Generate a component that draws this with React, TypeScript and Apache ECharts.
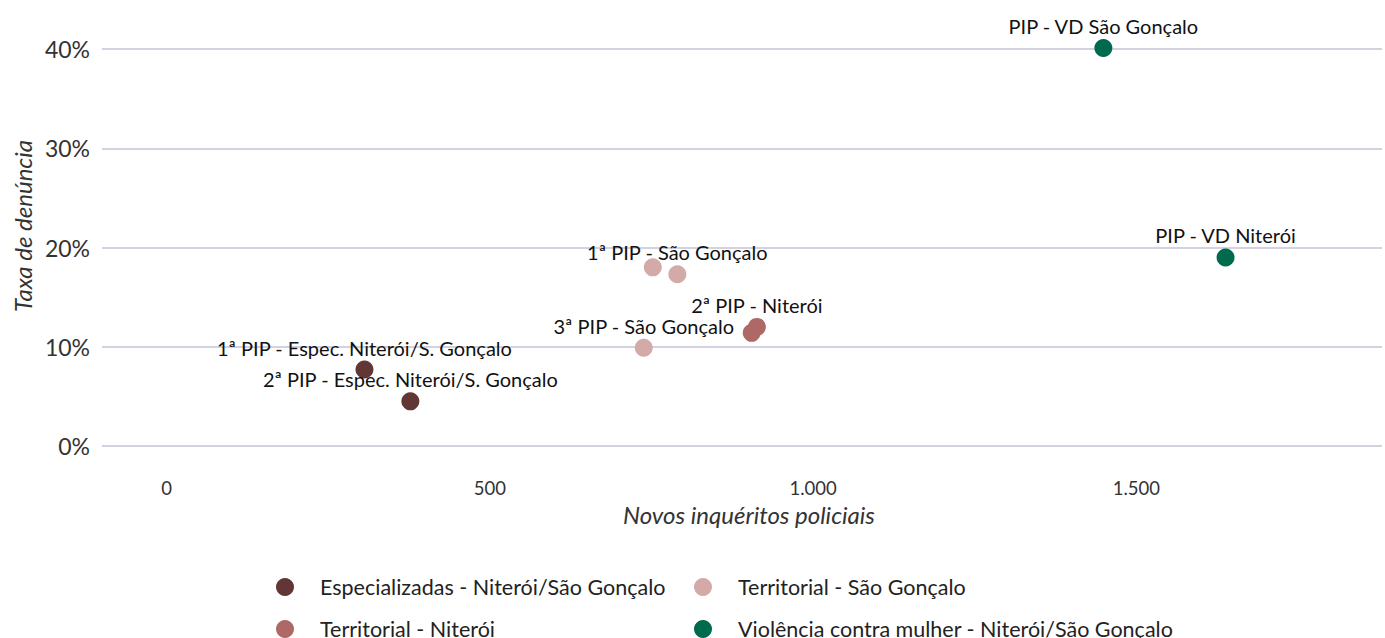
import React, { useEffect, useRef } from "react";
import * as echarts from "echarts";

const seriesNames = [
  "Especializadas - Niterói/São Gonçalo",
  "Territorial - Niterói",
  "Territorial - São Gonçalo",
  "Violência contra mulher - Niterói/São Gonçalo",
];
const colors = ["#633636", "#ae6967", "#d4aaa8", "#006a4f"];

// [novos inquéritos, taxa de denúncia %, rótulo]
const especializadas: [number, number, string][] = [
  [306, 7.7, "1ª PIP - Espec. Niterói/S. Gonçalo"],
  [377, 4.5, "2ª PIP - Espec. Niterói/S. Gonçalo"],
];
const territorialNiteroi: [number, number, string][] = [
  [905, 11.4, ""],
  [913, 12.0, "2ª PIP - Niterói"],
];
const territorialSaoGoncalo: [number, number, string][] = [
  [752, 18.0, ""],
  [790, 17.3, "1ª PIP - São Gonçalo"],
  [738, 9.9, "3ª PIP - São Gonçalo"],
];
const violencia: [number, number, string][] = [
  [1449, 40.1, "PIP - VD São Gonçalo"],
  [1638, 19.0, "PIP - VD Niterói"],
];
const groups = [especializadas, territorialNiteroi, territorialSaoGoncalo, violencia];

const yTicks = [0, 10, 20, 30, 40];
const xTickValues = [0, 500, 1000, 1500];
const xTitle = "Novos inquéritos policiais";
const yTitle = "Taxa de denúncia";

const FONT = "Lato";

export default function App() {
  const ref = useRef<HTMLDivElement>(null);
  useEffect(() => {
    if (!ref.current) return;
    const chart = echarts.init(ref.current, undefined, { renderer: "svg" });
    const legendPos = [
      { left: 271, top: 571 },
      { left: 271, top: 613 },
      { left: 689, top: 571 },
      { left: 689, top: 613 },
    ];
    chart.setOption({
      animation: false,
      backgroundColor: "#ffffff",
      textStyle: { fontFamily: FONT },
      grid: { left: 102, right: 0, top: 49, bottom: 192, containLabel: false },
      xAxis: {
        type: "value",
        min: -100,
        max: 1880,
        interval: 100,
        axisLine: { show: false },
        axisTick: { show: false },
        splitLine: { show: false },
        axisLabel: {
          margin: 32,
          fontSize: 18.5,
          color: "#333333",
          fontFamily: FONT,
          showMinLabel: true,
          showMaxLabel: true,
          formatter: (v: number) =>
            xTickValues.includes(v) ? v.toLocaleString("de-DE") : "",
        },
      },
      yAxis: {
        type: "value",
        min: yTicks[0],
        max: yTicks[yTicks.length - 1],
        interval: 10,
        axisLine: { show: false },
        axisTick: { show: false },
        splitLine: { show: true, lineStyle: { color: "#d2d2e2", width: 2 } },
        axisLabel: {
          margin: 12,
          fontSize: 23,
          color: "#333333",
          fontFamily: FONT,
          formatter: (v: number) => v + "%",
        },
      },
      legend: seriesNames.map((n, i) => ({
        data: [n],
        left: legendPos[i].left,
        top: legendPos[i].top,
        icon: "circle",
        itemWidth: 18,
        itemHeight: 18,
        selectedMode: false,
        textStyle: {
          fontSize: 21.5,
          color: "#222222",
          fontFamily: FONT,
          padding: [0, 0, 0, 21],
        },
      })),
      series: groups.map((g, i) => ({
        name: seriesNames[i],
        type: "scatter",
        symbolSize: 18,
        clip: false,
        itemStyle: { color: colors[i], opacity: 1 },
        data: g.map((d) => ({
          value: [d[0], d[1]],
          label: {
            show: d[2] !== "",
            formatter: d[2],
            position: "top",
            distance: 3,
            fontSize: 20,
            color: "#111111",
            fontFamily: FONT,
          },
        })),
      })),
      graphic: [
        {
          type: "text",
          x: 749,
          y: 514,
          style: {
            text: xTitle,
            fontSize: 24,
            fontStyle: "italic",
            fontFamily: FONT,
            fill: "#333333",
            x: 0,
            y: 0,
            align: "center",
            verticalAlign: "middle",
          },
        },
        {
          type: "text",
          x: 22,
          y: 226,
          rotation: Math.PI / 2,
          style: {
            text: yTitle,
            fontSize: 24,
            fontStyle: "italic",
            fontFamily: FONT,
            fill: "#333333",
            x: 0,
            y: 0,
            align: "center",
            verticalAlign: "middle",
          },
        },
      ],
    });
    return () => chart.dispose();
  }, []);
  return <div ref={ref} style={{ width: 1385, height: 638, position: "absolute", left: 0, top: 0 }} />;
}
